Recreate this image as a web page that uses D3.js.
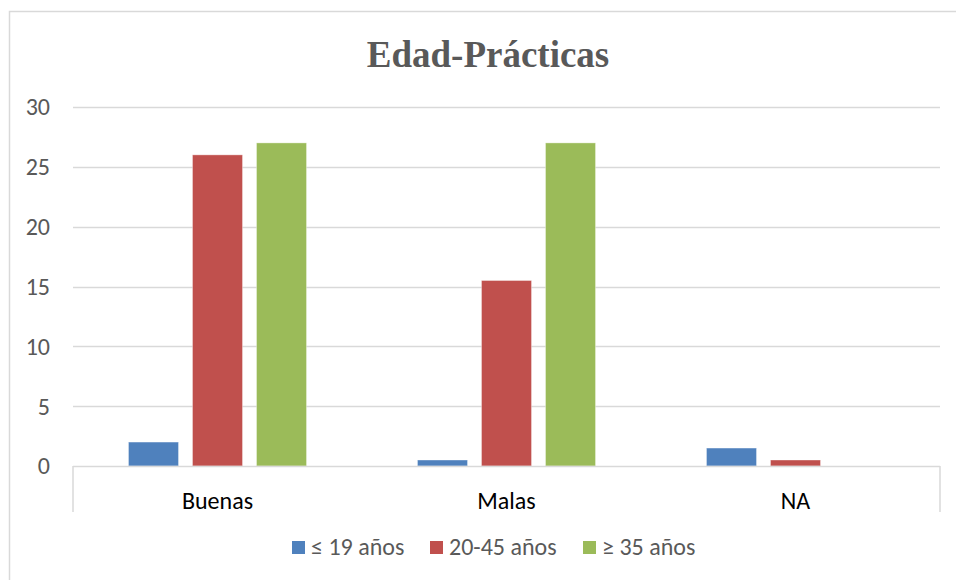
<!DOCTYPE html>
<html>
<head>
<meta charset="utf-8">
<script src="https://cdn.jsdelivr.net/npm/d3@7"></script>
<style>
  html, body { margin: 0; padding: 0; background: #fff; }
  svg { display: block; }
</style>
</head>
<body>
<div id="chart"></div>
<script>
const categories = ["Buenas", "Malas", "NA"];
const seriesNames = ["≤ 19 años", "20-45 años", "≥ 35 años"];
const seriesColors = ["#4f81bd", "#c0504d", "#9bbb59"];
const values19 = [2, 0.5, 1.5];
const values20_45 = [26, 15.5, 0.5];
const values35 = [27, 27, 0];
const yTicks = [0, 5, 10, 15, 20, 25, 30];
const titleText = "Edad-Prácticas";

const seriesValues = [values19, values20_45, values35];
const W = 956, H = 580;
const plotL = 73, plotR = 940, plotT = 107, plotB = 466;
const font = "Carlito, Calibri, 'Open Sans', sans-serif";
const fs = 24;

const svg = d3.select("#chart").append("svg").attr("width", W).attr("height", H);

svg.append("rect").attr("x", 9.5).attr("y", 11.5).attr("width", 960).attr("height", 600)
  .attr("fill", "#fff").attr("stroke", "#d9d9d9").attr("stroke-width", 1.5);

svg.append("text").attr("x", 488).attr("y", 67).attr("text-anchor", "middle")
  .attr("font-family", "'Liberation Serif', 'Times New Roman', serif")
  .attr("font-weight", "bold").attr("font-size", 37).attr("fill", "#595959")
  .text(titleText);

const y = d3.scaleLinear().domain([0, 30]).range([plotB, plotT]);
const x0 = d3.scaleBand().domain(categories).range([plotL, plotR]).paddingInner(0.384).paddingOuter(0.192);
const x1 = d3.scaleBand().domain(seriesNames).range([0, x0.bandwidth()]).paddingInner(14 / 64);

// gridlines
svg.append("g").selectAll("line").data(yTicks.filter(d => d > 0)).join("line")
  .attr("x1", plotL).attr("x2", plotR)
  .attr("y1", d => Math.round(y(d)) + 0.5).attr("y2", d => Math.round(y(d)) + 0.5)
  .attr("stroke", "#d9d9d9").attr("stroke-width", 1.5);

// y labels
const yAxis = d3.axisLeft(y).tickValues(yTicks).tickSize(0).tickPadding(0);
const gy = svg.append("g").attr("transform", `translate(50,0)`).call(yAxis);
gy.select(".domain").remove();
gy.selectAll("text").attr("font-family", font).attr("font-size", fs).attr("fill", "#595959").attr("dy", "0.33em");

// bars
const groups = svg.append("g").selectAll("g").data(categories).join("g")
  .attr("transform", d => `translate(${x0(d)},0)`);
groups.selectAll("rect").data((c, i) => seriesNames.map((s, j) => ({ s, j, v: seriesValues[j][i] })))
  .join("rect")
  .attr("x", d => x1(d.s)).attr("width", x1.bandwidth())
  .attr("y", d => y(d.v)).attr("height", d => plotB - y(d.v))
  .attr("fill", d => seriesColors[d.j])
  .attr("stroke", "#ffffff").attr("stroke-opacity", 0.35).attr("stroke-width", 1)
  .style("display", d => d.v > 0 ? null : "none");

// x axis
const xAxis = d3.axisBottom(x0).tickSize(0).tickPadding(0);
const gx = svg.append("g").attr("transform", `translate(0,${plotB})`).call(xAxis);
gx.select(".domain").remove();
gx.selectAll("text").attr("font-family", font).attr("font-size", fs).attr("fill", "#000")
  .attr("y", 43).attr("dy", 0);
svg.append("line").attr("x1", plotL).attr("x2", plotR).attr("y1", plotB + 0.5).attr("y2", plotB + 0.5)
  .attr("stroke", "#d9d9d9").attr("stroke-width", 1.5);
[plotL, plotR].forEach(xx => {
  svg.append("line").attr("x1", xx).attr("x2", xx).attr("y1", plotB).attr("y2", 512)
    .attr("stroke", "#d9d9d9").attr("stroke-width", 1.5);
});

// legend
const legendX = [292, 430, 583];
const lg = svg.append("g").selectAll("g").data(seriesNames).join("g")
  .attr("transform", (d, i) => `translate(${legendX[i]},541)`);
lg.append("rect").attr("width", 13).attr("height", 13).attr("fill", (d, i) => seriesColors[i]);
lg.append("text").attr("x", 19).attr("y", 14).attr("font-family", font).attr("font-size", fs)
  .attr("fill", "#595959").text(d => d);
</script>
</body>
</html>
